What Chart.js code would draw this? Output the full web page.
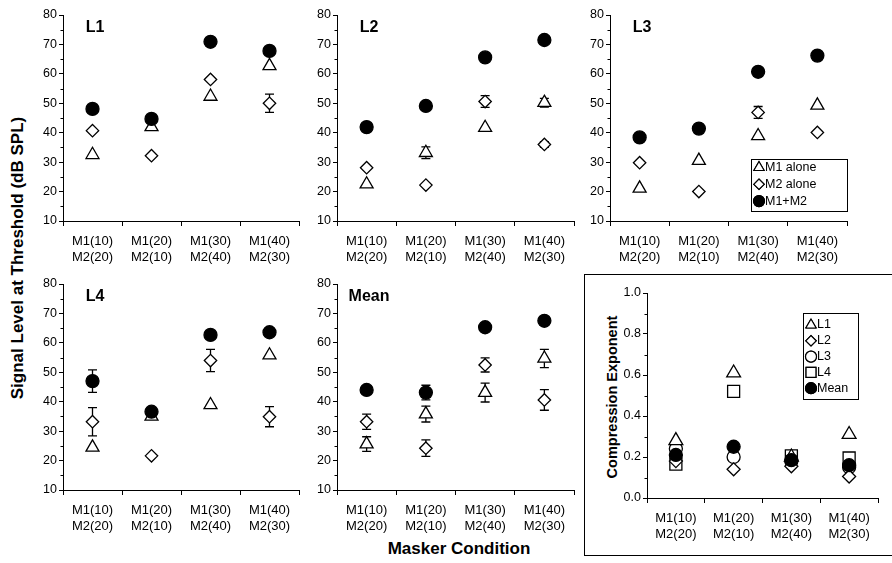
<!DOCTYPE html>
<html>
<head>
<meta charset="utf-8">
<script src="https://cdn.jsdelivr.net/npm/chart.js@4.4.0/dist/chart.umd.min.js"></script>
<style>
  body { margin: 0; width: 892px; height: 563px; position: relative; overflow: hidden; background: #fff;
         font-family: "Liberation Sans", Arial, sans-serif; color: #000; }
  canvas { position: absolute; }
  .lbl { position: absolute; font-weight: bold; white-space: nowrap; transform: translate(-50%, -50%); }
  .rot { transform: translate(-50%, -50%) rotate(-90deg); }
  #compBox { position: absolute; left: 584px; top: 274px; width: 320px; height: 280px; border: 1px solid #000; }
</style>
</head>
<body>
<div id="compBox"></div>
<div class="lbl rot" style="left:18px; top:258px; font-size:17px;">Signal Level at Threshold (dB SPL)</div>
<div class="lbl" style="left:459px; top:549px; font-size:17px;">Masker Condition</div>
<div class="lbl rot" style="left:612px; top:397px; font-size:14.5px;">Compression Exponent</div>

<script>
// ---- data ----
const conditions = [["M1(10)", "M2(20)"], ["M1(20)", "M2(10)"], ["M1(30)", "M2(40)"], ["M1(40)", "M2(30)"]];
const thresholdRange = [10, 80];
const exponentRange = [0, 1];

// listener L1
const L1_m1   = [32.5, 42.0, 52.3, 62.7];
const L1_m2   = [40.7, 32.2, 58.1, 50.0];
const L1_both = [48.1, 44.7, 70.9, 67.8];
const L1_m1Err   = [0, 0, 0, 0];
const L1_m2Err   = [0, 0, 0, 3.1];
const L1_bothErr = [0, 0, 0, 0];

// listener L2
const L2_m1   = [22.5, 33.2, 41.7, 50.2];
const L2_m2   = [28.1, 22.2, 50.6, 36.0];
const L2_both = [41.9, 49.1, 65.6, 71.5];
const L2_m1Err   = [0, 2.0, 0, 1.5];
const L2_m2Err   = [0, 0, 2.0, 1.0];
const L2_bothErr = [1.2, 0, 0, 0];

// listener L3
const L3_m1   = [21.1, 30.5, 38.9, 49.3];
const L3_m2   = [29.8, 20.0, 46.9, 40.1];
const L3_both = [38.4, 41.4, 60.7, 66.2];
const L3_m1Err   = [0, 0, 0, 0];
const L3_m2Err   = [0, 0, 2.0, 0];
const L3_bothErr = [0, 0, 0, 0];

// listener L4
const L4_m1   = [24.5, 35.0, 38.9, 55.8];
const L4_m2   = [33.2, 21.6, 54.0, 34.9];
const L4_both = [47.0, 36.6, 62.7, 63.6];
const L4_m1Err   = [0, 1.0, 0, 0];
const L4_m2Err   = [4.8, 0, 3.8, 3.4];
const L4_bothErr = [3.8, 0.8, 0, 0];

// mean of listeners
const Mean_m1   = [25.6, 35.8, 43.1, 54.7];
const Mean_m2   = [33.2, 24.2, 52.5, 40.6];
const Mean_both = [44.0, 43.1, 65.3, 67.5];
const Mean_m1Err   = [2.5, 2.7, 3.2, 3.1];
const Mean_m2Err   = [2.6, 2.8, 2.4, 3.5];
const Mean_bothErr = [1.5, 2.5, 1.5, 0.8];

// compression exponents
const comp_L1   = [0.28, 0.61, 0.20, 0.31];
const comp_L2   = [0.18, 0.14, 0.155, 0.105];
const comp_L3   = [0.24, 0.20, 0.18, 0.15];
const comp_L4   = [0.165, 0.52, 0.205, 0.195];
const comp_mean = [0.21, 0.25, 0.185, 0.16];

// ---- layout ----
const FONT = '"Liberation Sans", Arial, sans-serif';
Chart.defaults.font.family = FONT;
Chart.defaults.color = '#000';

const PAD_L = 45, PAD_T = 12, PAD_R = 10, PAD_B = 52;

const plots = {
    L1:   { x: 63,  y: 15,  w: 236, h: 206 },
    L2:   { x: 337, y: 15,  w: 237, h: 206 },
    L3:   { x: 610, y: 15,  w: 237, h: 206 },
    L4:   { x: 63,  y: 284, w: 236, h: 206 },
    Mean: { x: 337, y: 284, w: 237, h: 206 },
    comp: { x: 647, y: 293, w: 231, h: 205 }
};

function makeCanvas(p) {
    const c = document.createElement("canvas");
    const w = p.w + PAD_L + PAD_R;
    const h = p.h + PAD_T + PAD_B;
    c.width = w; c.height = h;
    c.style.width = w + "px"; c.style.height = h + "px";
    c.style.left = (p.x - PAD_L) + "px";
    c.style.top = (p.y - PAD_T) + "px";
    document.body.appendChild(c);
    return c;
}

// ---- plugins ----
const errorBars = {
    id: "errorBars",
    beforeDatasetsDraw(chart) {
        const ctx = chart.ctx;
        const yS = chart.scales.y;
        chart.data.datasets.forEach((ds, i) => {
            if (!ds.errors) return;
            chart.getDatasetMeta(i).data.forEach((pt, j) => {
                const e = ds.errors[j];
                if (!e) return;
                const top = yS.getPixelForValue(ds.data[j] + e);
                const bot = yS.getPixelForValue(ds.data[j] - e);
                ctx.save();
                ctx.strokeStyle = "#000";
                ctx.lineWidth = 1.3;
                ctx.beginPath();
                ctx.moveTo(pt.x, top); ctx.lineTo(pt.x, bot);
                ctx.moveTo(pt.x - 4.5, top); ctx.lineTo(pt.x + 4.5, top);
                ctx.moveTo(pt.x - 4.5, bot); ctx.lineTo(pt.x + 4.5, bot);
                ctx.stroke();
                ctx.restore();
            });
        });
    }
};

const minorTicks = {
    id: "minorTicks",
    afterDraw(chart, args, opts) {
        if (!opts.step) return;
        const yS = chart.scales.y;
        const ctx = chart.ctx;
        const x = chart.chartArea.left;
        ctx.save();
        ctx.strokeStyle = "#000";
        ctx.lineWidth = 1;
        ctx.beginPath();
        for (let v = yS.min + opts.step; v < yS.max; v += opts.step * 2) {
            const y = Math.round(yS.getPixelForValue(v)) + 0.5;
            ctx.moveTo(x - 2.5, y); ctx.lineTo(x, y);
        }
        ctx.stroke();
        ctx.restore();
    }
};

const panelLabel = {
    id: "panelLabel",
    afterDraw(chart, args, opts) {
        if (!opts.text) return;
        const ctx = chart.ctx;
        ctx.save();
        ctx.font = "bold 16px " + FONT;
        ctx.fillStyle = "#000";
        ctx.textAlign = "center";
        ctx.textBaseline = "middle";
        ctx.fillText(opts.text, chart.chartArea.left + 32, chart.chartArea.top + 13);
        ctx.restore();
    }
};

const boxLegend = {
    id: "boxLegend",
    afterDraw(chart, args, opts) {
        if (!opts.box) return;
        const ctx = chart.ctx;
        const ox = chart.canvas.offsetLeft, oy = chart.canvas.offsetTop;
        const b = opts.box;
        ctx.save();
        ctx.strokeStyle = "#000";
        ctx.lineWidth = 1;
        ctx.strokeRect(b.x - ox + 0.5, b.y - oy + 0.5, b.w, b.h);
        ctx.font = opts.fontSize + "px " + FONT;
        ctx.textBaseline = "middle";
        ctx.fillStyle = "#000";
        chart.data.datasets.forEach((ds, i) => {
            const cy = opts.firstRow + i * opts.rowH - oy;
            Chart.helpers.drawPoint(ctx, {
                pointStyle: ds.pointStyle,
                radius: ds.legendRadius,
                borderWidth: 1.2,
                rotation: 0
            }, opts.symX - ox, cy);
            ctx.fillStyle = ds.pointBackgroundColor;
            ctx.strokeStyle = "#000";
            ctx.lineWidth = 1.2;
            ctx.fill();
            ctx.stroke();
            ctx.fillStyle = "#000";
            ctx.fillText(ds.label, opts.textX - ox, cy);
        });
        ctx.restore();
    }
};

// ---- chart builders ----
function dataset(label, data, errors, style, radius, fill, order, legendRadius) {
    return {
        label: label,
        data: data,
        errors: errors,
        showLine: false,
        pointStyle: style,
        pointRadius: radius,
        pointHoverRadius: radius,
        pointBackgroundColor: fill,
        pointBorderColor: "#000",
        pointBorderWidth: 1.3,
        order: order,
        legendRadius: legendRadius
    };
}

function axes(range, step, fmt) {
    return {
        x: {
            offset: true,
            grid: { offset: true, drawOnChartArea: false, tickLength: 5, tickColor: "#000", color: "#000" },
            border: { color: "#000", width: 1 },
            ticks: { color: "#000", font: { size: 13 }, padding: 8, maxRotation: 0, autoSkip: false },
            afterFit: (s) => { s.height = PAD_B; }
        },
        y: {
            min: range[0],
            max: range[1],
            grid: { drawOnChartArea: false, tickLength: 4, tickColor: "#000", color: "#000" },
            border: { color: "#000", width: 1 },
            ticks: { color: "#000", font: { size: 12.5 }, padding: 2, stepSize: step, callback: fmt },
            afterFit: (s) => { s.width = PAD_L; }
        }
    };
}

function baseOptions(range, step, fmt, minorStep, label, legend) {
    return {
        responsive: false,
        animation: false,
        events: [],
        layout: { padding: { left: 0, top: PAD_T, right: PAD_R, bottom: 0 } },
        scales: axes(range, step, fmt),
        plugins: {
            legend: { display: false },
            tooltip: { enabled: false },
            minorTicks: { step: minorStep },
            panelLabel: { text: label },
            boxLegend: legend || {}
        }
    };
}

function thresholdPanel(key, m1, m2, both, m1Err, m2Err, bothErr, legend) {
    new Chart(makeCanvas(plots[key]), {
        type: "line",
        data: {
            labels: conditions,
            datasets: [
                dataset("M1 alone", m1, m1Err, "triangle", 7.5, "#fff", 1, 6),
                dataset("M2 alone", m2, m2Err, "rectRot", 6.2, "#fff", 2, 5.2),
                dataset("M1+M2", both, bothErr, "circle", 6.5, "#000", 0, 5.5)
            ]
        },
        options: baseOptions(thresholdRange, 10, (v) => v, 5, key, legend),
        plugins: [errorBars, minorTicks, panelLabel, boxLegend]
    });
}

thresholdPanel("L1", L1_m1, L1_m2, L1_both, L1_m1Err, L1_m2Err, L1_bothErr);
thresholdPanel("L2", L2_m1, L2_m2, L2_both, L2_m1Err, L2_m2Err, L2_bothErr);
thresholdPanel("L3", L3_m1, L3_m2, L3_both, L3_m1Err, L3_m2Err, L3_bothErr, {
    box: { x: 751, y: 159, w: 96, h: 52 },
    firstRow: 167.5, rowH: 16.8, symX: 759, textX: 765, fontSize: 12.5
});
thresholdPanel("L4", L4_m1, L4_m2, L4_both, L4_m1Err, L4_m2Err, L4_bothErr);
thresholdPanel("Mean", Mean_m1, Mean_m2, Mean_both, Mean_m1Err, Mean_m2Err, Mean_bothErr);

new Chart(makeCanvas(plots.comp), {
    type: "line",
    data: {
        labels: conditions,
        datasets: [
            dataset("L1", comp_L1, null, "triangle", 8, "#fff", 1, 6),
            dataset("L2", comp_L2, null, "rectRot", 6.5, "#fff", 2, 5.2),
            dataset("L3", comp_L3, null, "circle", 6.5, "#fff", 3, 5.5),
            dataset("L4", comp_L4, null, "rect", 8.5, "#fff", 4, 7),
            dataset("Mean", comp_mean, null, "circle", 6.5, "#000", 0, 5.5)
        ]
    },
    options: baseOptions(exponentRange, 0.2, (v) => v.toFixed(1), 0.1, "", {
        box: { x: 803, y: 313, w: 55, h: 86 },
        firstRow: 325, rowH: 15.8, symX: 811, textX: 817, fontSize: 12.5
    }),
    plugins: [minorTicks, panelLabel, boxLegend]
});
</script>
</body>
</html>
